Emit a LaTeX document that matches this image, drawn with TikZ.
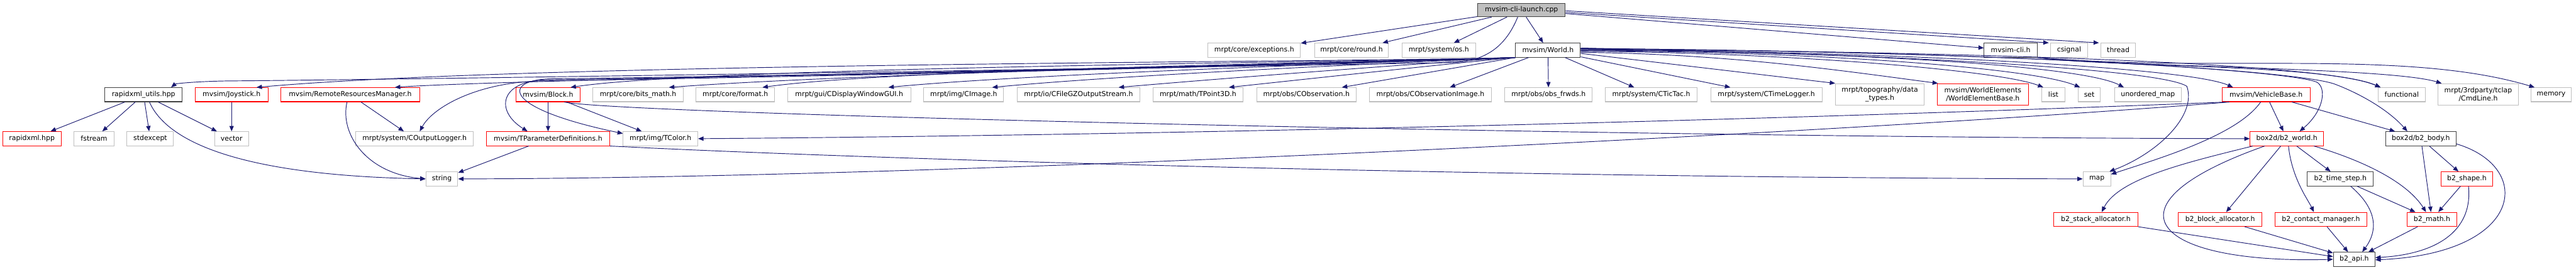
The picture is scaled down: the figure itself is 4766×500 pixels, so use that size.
\documentclass[tikz,border=0pt]{standalone}
\usepackage{fontspec}
\setmainfont{DejaVu Sans}
\usetikzlibrary{arrows.meta}
\definecolor{edgec}{HTML}{191970}
\definecolor{greyb}{HTML}{BFBFBF}
\definecolor{darkb}{HTML}{404040}
\definecolor{redb}{HTML}{FF0000}
\tikzset{
  nb/.style={draw=greyb, fill=white, line width=1.2pt, rectangle, inner sep=0pt,
    minimum height=26pt, font=\fontsize{12.7}{15.5}\selectfont, align=center},
  gn/.style={nb},
  rn/.style={nb, draw=redb},
  kn/.style={nb, draw=darkb},
  e/.style={draw=edgec, line width=1.1pt, -{Triangle[length=10pt,width=8pt]}},
}
\begin{document}
\begin{tikzpicture}[x=1pt,y=-1pt]
\useasboundingbox (0,0) rectangle (4766,500);
% row 0
\node[kn, fill=greyb, minimum width=162pt, minimum height=25pt] (launch) at (2815,18.5) {mvsim-cli-launch.cpp};
% row 1
\node[gn, minimum width=171pt] (exc) at (2320.5,93) {mrpt/core/exceptions.h};
\node[gn, minimum width=137pt] (round) at (2500.5,93) {mrpt/core/round.h};
\node[gn, minimum width=136pt] (os) at (2662,93) {mrpt/system/os.h};
\node[kn, minimum width=120pt] (world) at (2864,93) {mvsim/World.h};
\node[kn, minimum width=98pt] (cli) at (3720,93) {mvsim-cli.h};
\node[gn, minimum width=68pt] (csignal) at (3828,93) {csignal};
\node[gn, minimum width=64pt] (thread) at (3919,93) {thread};
% row 2
\node[kn, minimum width=143pt] (rxu) at (265.5,175.5) {rapidxml\_utils.hpp};
\node[rn, minimum width=135pt] (joy) at (428.5,175.5) {mvsim/Joystick.h};
\node[rn, minimum width=258pt] (rrm) at (648,175.5) {mvsim/RemoteResourcesManager.h};
\node[rn, minimum width=118pt] (block) at (1014,175.5) {mvsim/Block.h};
\node[gn, minimum width=167pt] (bits) at (1180.5,175.5) {mrpt/core/bits\_math.h};
\node[gn, minimum width=145pt] (format) at (1360.5,175.5) {mrpt/core/format.h};
\node[gn, minimum width=228pt] (gui) at (1571,175.5) {mrpt/gui/CDisplayWindowGUI.h};
\node[gn, minimum width=148pt] (cimage) at (1783,175.5) {mrpt/img/CImage.h};
\node[gn, minimum width=227pt] (gz) at (1995.5,175.5) {mrpt/io/CFileGZOutputStream.h};
\node[gn, minimum width=167pt] (tp3d) at (2216.5,175.5) {mrpt/math/TPoint3D.h};
\node[gn, minimum width=184pt] (cobs) at (2417,175.5) {mrpt/obs/CObservation.h};
\node[gn, minimum width=225pt] (cobsimg) at (2646.5,175.5) {mrpt/obs/CObservationImage.h};
\node[gn, minimum width=162pt] (frwds) at (2865,175.5) {mrpt/obs/obs\_frwds.h};
\node[gn, minimum width=170pt] (tictac) at (3055,175.5) {mrpt/system/CTicTac.h};
\node[gn, minimum width=206pt] (tlog) at (3268,175.5) {mrpt/system/CTimeLogger.h};
\node[gn, minimum width=164pt, minimum height=40pt] (topo) at (3478,175) {mrpt/topography/data\\\_types.h};
\node[rn, minimum width=169pt, minimum height=40pt] (web) at (3668.5,175) {mvsim/WorldElements\\/WorldElementBase.h};
\node[gn, minimum width=42pt] (list) at (3799,175.5) {list};
\node[gn, minimum width=41pt] (set) at (3865.5,175.5) {set};
\node[gn, minimum width=124pt] (umap) at (3974,175.5) {unordered\_map};
\node[rn, minimum width=163pt] (vb) at (4192.5,175.5) {mvsim/VehicleBase.h};
\node[gn, minimum width=87pt] (func) at (4443.5,175.5) {functional};
\node[gn, minimum width=148pt, minimum height=40pt] (cmd) at (4585,175) {mrpt/3rdparty/tclap\\/CmdLine.h};
\node[gn, minimum width=74pt] (memory) at (4720,175.5) {memory};
% row 3
\node[rn, minimum width=108pt] (rapidxml) at (59,257) {rapidxml.hpp};
\node[gn, minimum width=74pt] (fstream) at (174,257) {fstream};
\node[gn, minimum width=86pt] (stdexcept) at (278,257) {stdexcept};
\node[gn, minimum width=63pt] (vector) at (428.5,257) {vector};
\node[gn, minimum width=218pt] (col) at (767,257) {mrpt/system/COutputLogger.h};
\node[rn, minimum width=228pt] (tparam) at (1014,257) {mvsim/TParameterDefinitions.h};
\node[gn, minimum width=138pt] (tcolor) at (1222,257) {mrpt/img/TColor.h};
\node[rn, minimum width=136pt] (b2w) at (4231,257) {box2d/b2\_world.h};
\node[kn, minimum width=130pt] (b2b) at (4479,257) {box2d/b2\_body.h};
% row 4
\node[gn, minimum width=59pt] (string) at (817.5,331.5) {string};
\node[gn, minimum width=51pt] (map) at (3879.5,331.5) {map};
\node[kn, minimum width=122pt] (ts) at (4330,331.5) {b2\_time\_step.h};
\node[rn, minimum width=96pt] (shape) at (4564,331.5) {b2\_shape.h};
% row 5
\node[rn, minimum width=155pt] (stack) at (3877.5,406.5) {b2\_stack\_allocator.h};
\node[rn, minimum width=155pt] (balloc) at (4107.5,406.5) {b2\_block\_allocator.h};
\node[rn, minimum width=170pt] (cm) at (4294,406.5) {b2\_contact\_manager.h};
\node[rn, minimum width=91pt] (math) at (4499.5,406.5) {b2\_math.h};
% row 6
\node[kn, minimum width=77pt] (api) at (4355.5,480.5) {b2\_api.h};

% ---- edges from launch
\draw[e] (launch) -- (exc);
\draw[e] (launch) -- (round);
\draw[e] (launch) -- (os);
\draw[e] (launch) -- (world);
\draw[e] (launch) -- (cli);
\draw[e] ([yshift=-4.5pt]launch.east) -- ([xshift=-3pt]csignal.north west);
\draw[e] ([yshift=-1.5pt]launch.east) -- ([xshift=-3pt]thread.north west);
\draw[e] ([xshift=-7pt]launch.south) .. controls (2790,75) and (2760,112) .. (2690,116)
  .. controls (2000,128) and (700,148) .. (420,150) .. controls (360,151) and (325,155) .. ([xshift=-21pt]rxu.north east);

% ---- World to the left
\draw[e] (world.south west) .. controls (2500,116) and (1000,115) .. ([xshift=-22pt]joy.north east);
\draw[e] (world.south west) .. controls (2500,120) and (950,146) .. ([xshift=-47pt]rrm.north east);
\draw[e] (world.south west) .. controls (2450,116) and (1300,125) .. ([xshift=-18pt]block.north east);
\draw[e] (world.south west) .. controls (2500,116) and (1600,135) .. ([xshift=-27pt]bits.north east);
\draw[e] (world.south west) .. controls (2500,116) and (1650,128) .. ([xshift=-23pt]format.north east);
\draw[e] (world.south west) .. controls (2550,116) and (1900,137) .. ([xshift=-42pt]gui.north east);
\draw[e] (world.south west) .. controls (2600,116) and (2100,137) .. ([xshift=-22pt]cimage.north east);
\draw[e] (world.south west) .. controls (2650,116) and (2300,142) .. ([xshift=-40pt]gz.north east);
\draw[e] (world.south west) .. controls (2700,116) and (2450,143) .. ([xshift=-27pt]tp3d.north east);
\draw[e] (world.south west) -- ([xshift=-27pt]cobs.north east);
\draw[e] (world.south west) .. controls (2300,125) and (1300,146) .. (1000,150)
  .. controls (880,153) and (800,200) .. ([xshift=-100pt]col.north east);
\draw[e] (world.south west) .. controls (2300,125) and (1300,144) .. (1010,148)
  .. controls (925,150) and (915,205) .. ([xshift=-38pt]tparam.north);
\draw[e] (world.south west) .. controls (2300,125) and (1300,143) .. (1020,146)
  .. controls (930,148) and (925,200) .. ([yshift=-4pt]tcolor.north west);
% ---- World below / right
\draw[e] (world) -- (cobsimg);
\draw[e] (world) -- (frwds);
\draw[e] (world) -- (tictac);
\draw[e] (world) -- (tlog);
\draw[e] ([yshift=-6pt]world.east) -- (topo.north west);
\draw[e] ([yshift=-4pt]world.east) .. controls (3200,100) and (3400,130) .. ([xshift=2pt]web.north west);
\draw[e] ([yshift=-2pt]world.east) .. controls (3300,97) and (3700,130) .. ([xshift=3pt]list.north west);
\draw[e] ([yshift=-1pt]world.east) .. controls (3350,95) and (3760,125) .. ([xshift=4pt]set.north west);
\draw[e] (world.east) .. controls (3400,95) and (3850,120) .. ([xshift=18pt]umap.north west);
\draw[e] ([yshift=1pt]world.east) .. controls (3500,95) and (4050,125) .. ([xshift=21pt]vb.north west);
\draw[e] ([yshift=2pt]world.east) .. controls (3600,95) and (4300,115) .. ([xshift=5pt]func.north west);
\draw[e] ([yshift=3pt]world.east) .. controls (3700,95) and (4230,130) .. (4286,152)
  .. controls (4305,162) and (4300,205) .. ([xshift=-45pt]b2w.north east);
\draw[e] ([yshift=3pt]world.east) .. controls (3700,95) and (4250,130) .. (4320,156)
  .. controls (4370,175) and (4420,205) .. ([xshift=-25pt]b2b.north);
\draw[e] ([yshift=4pt]world.east) .. controls (3500,100) and (4000,128) .. (4046,160)
  .. controls (4065,215) and (3990,285) .. ([xshift=-3pt]map.north east);

% ---- mvsim-cli.h
\draw[e] (cli.south east) .. controls (3900,125) and (4300,118) .. ([xshift=5pt]func.north west);
\draw[e] (cli.south east) .. controls (3950,125) and (4420,125) .. ([xshift=7pt]cmd.north west);
\draw[e] (cli.south east) .. controls (4100,135) and (4450,90) .. ([xshift=7pt]memory.north west);

% ---- rapidxml_utils
\draw[e] (rxu) -- (rapidxml);
\draw[e] (rxu) -- (fstream);
\draw[e] (rxu) -- (stdexcept);
\draw[e] (rxu) -- (vector);
\draw[e] ([xshift=11pt]rxu.south) .. controls (310,265) and (450,325) .. (string.west);
\draw[e] (joy) -- (vector);
\draw[e] (rrm) -- (col);
\draw[e] ([xshift=-6pt]rrm.south) .. controls (628,250) and (680,322) .. (string.west);

% ---- Block, TParameterDefinitions
\draw[e] (block) -- (tparam);
\draw[e] (block) -- (tcolor);
\draw[e] ([xshift=30pt]block.south) .. controls (1150,212) and (3000,255) .. (b2w.west);
\draw[e] (tparam) -- (string);
\draw[e] (tparam.south east) .. controls (1500,290) and (2600,328) .. (map.west);

% ---- VehicleBase
\draw[e] ([xshift=8pt]vb.south west) .. controls (3300,222) and (2200,250) .. (tcolor.east);
\draw[e] ([xshift=14pt]vb.south west) .. controls (3500,240) and (1800,330) .. (string.east);
\draw[e] ([xshift=-10pt]vb.south) .. controls (4140,250) and (4000,292) .. ([yshift=-5pt]map.north east);
\draw[e] (vb) -- (b2w);
\draw[e] (vb) -- (b2b);

% ---- box2d
\draw[e] (b2w) -- (ts);
\draw[e] (b2w) -- (balloc);
\draw[e] ([xshift=3pt]b2w.south) .. controls (4240,330) and (4270,370) .. ([xshift=-13pt]cm.north);
\draw[e] ([xshift=50pt]b2w.south) .. controls (4380,300) and (4455,340) .. ([xshift=-11pt]math.north);
\draw[e] ([xshift=-63pt]b2w.south) .. controls (4050,300) and (3920,330) .. ([xshift=11pt]stack.north);
\draw[e] ([xshift=-41pt]b2w.south) .. controls (3880,380) and (3980,490) .. (api.west);
\draw[e] (stack.south east) -- ([yshift=5pt]api.west);
\draw[e] (balloc) -- (api);
\draw[e] (cm) -- (api);
\draw[e] (ts) -- (math);
\draw[e] ([xshift=19pt]ts.south) .. controls (4390,380) and (4405,420) .. ([xshift=15pt]api.north);
\draw[e] (math) -- (api);
\draw[e] (b2b) -- (math);
\draw[e] (b2b) -- (shape);
\draw[e] ([yshift=4pt]b2b.south east) .. controls (4690,310) and (4670,470) .. ([yshift=-1pt]api.east);
\draw[e] ([xshift=3pt]shape.south) .. controls (4575,420) and (4520,470) .. ([yshift=3pt]api.east);
\draw[e] (shape) -- (math);
\end{tikzpicture}
\end{document}
